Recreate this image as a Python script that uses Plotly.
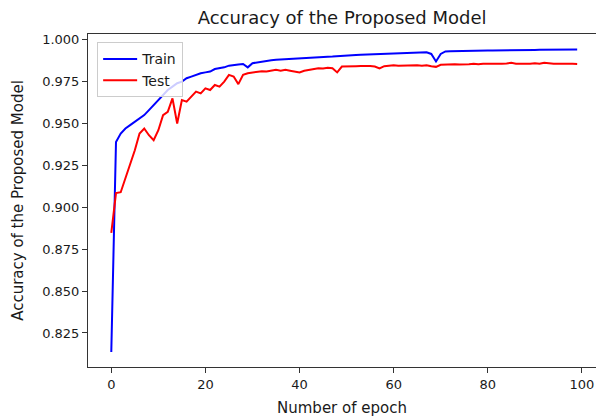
import plotly.graph_objects as go

epochs = list(range(100))

train_acc = [
    0.8137, 0.939, 0.944, 0.947, 0.949, 0.951, 0.953, 0.955, 0.958, 0.961,
    0.964, 0.967, 0.970, 0.972, 0.974, 0.975, 0.977, 0.978, 0.979, 0.980,
    0.9805, 0.981, 0.9825, 0.983, 0.9835, 0.9845, 0.985, 0.9852, 0.9855, 0.9835,
    0.986, 0.9865, 0.987, 0.9873, 0.9877, 0.988, 0.9882, 0.9884, 0.9886, 0.9888,
    0.9889, 0.989, 0.9892, 0.9893, 0.9895, 0.9897, 0.9898, 0.9899, 0.990, 0.9902,
    0.9904, 0.9906, 0.9908, 0.991, 0.9911, 0.9912, 0.9912, 0.9911, 0.9912, 0.9914,
    0.9916, 0.9918, 0.9919, 0.9921, 0.9922, 0.9923, 0.9924, 0.9925, 0.9915, 0.9870,
    0.9915, 0.993, 0.9931, 0.9932, 0.9932, 0.9933, 0.9933, 0.9934, 0.9934, 0.9934,
    0.9935, 0.9935, 0.9935, 0.9936, 0.9936, 0.9937, 0.9937, 0.9938, 0.9938, 0.9938,
    0.9939, 0.994, 0.994, 0.9941, 0.9941, 0.9941, 0.9942, 0.9942, 0.9942, 0.9941,
]

test_acc = [
    0.8847, 0.9085, 0.909, 0.917, 0.926, 0.934, 0.944, 0.947, 0.943, 0.940,
    0.946, 0.955, 0.957, 0.965, 0.950, 0.964, 0.963, 0.966, 0.969, 0.968,
    0.971, 0.970, 0.973, 0.972, 0.975, 0.979, 0.978, 0.9735, 0.979, 0.980,
    0.9805, 0.981, 0.9812, 0.981, 0.9815, 0.982, 0.9815, 0.982, 0.9815, 0.981,
    0.9805, 0.9815, 0.982, 0.9825, 0.983, 0.9828, 0.9832, 0.983, 0.9805, 0.984,
    0.9842, 0.9843, 0.9842, 0.9843, 0.9845, 0.9843, 0.984, 0.9828, 0.9842, 0.9845,
    0.9847, 0.9845, 0.9846, 0.9843, 0.9846, 0.9847, 0.9845, 0.9848, 0.9842, 0.9838,
    0.985, 0.9852, 0.9851, 0.9853, 0.9852, 0.9855, 0.9854, 0.9856, 0.9853, 0.9857,
    0.9856, 0.9858, 0.9855, 0.9857, 0.9858, 0.9862, 0.9857, 0.9856, 0.9858, 0.9857,
    0.9859, 0.9856, 0.9862, 0.9858, 0.9857, 0.9856, 0.9858, 0.9857, 0.9856, 0.9855,
]

x_ticks = [0, 20, 40, 60, 80, 100]
y_ticks = [0.825, 0.850, 0.875, 0.900, 0.925, 0.950, 0.975, 1.000]
y_tick_labels = ["0.825", "0.850", "0.875", "0.900", "0.925", "0.950", "0.975", "1.000"]

FONT = "DejaVu Sans"
TXT = "#1a1a1a"

fig = go.Figure()
fig.add_trace(go.Scatter(x=epochs, y=train_acc, mode="lines", name="Train",
                         line=dict(color="#0000ff", width=2)))
fig.add_trace(go.Scatter(x=epochs, y=test_acc, mode="lines", name="Test",
                         line=dict(color="#ff0000", width=2)))

fig.update_layout(
    width=596, height=418,
    margin=dict(l=88, r=0, t=34, b=51),
    paper_bgcolor="white", plot_bgcolor="white",
    font=dict(family=FONT, size=13, color=TXT),
    title=dict(text="Accuracy of the Proposed Model", x=0.574, xanchor="center",
               y=1 - 18 / 418, yanchor="middle", yref="container",
               font=dict(family=FONT, size=18, color=TXT)),
    showlegend=True,
    legend=dict(x=0.018, y=0.975, xanchor="left", yanchor="top",
                bgcolor="rgba(255,255,255,0.8)", bordercolor="#cccccc", borderwidth=1,
                font=dict(family=FONT, size=14, color=TXT),
                itemwidth=34, tracegroupgap=0),
)

fig.update_xaxes(
    range=[-4.95, 103.0], tickvals=x_ticks, ticktext=[str(v) for v in x_ticks],
    showgrid=False, zeroline=False, showline=True, linecolor="#333333", linewidth=1,
    mirror=True, ticks="outside", ticklen=5, tickcolor="#333333",
    tickfont=dict(family=FONT, size=13, color=TXT), automargin=False,
    title=dict(text="Number of epoch", font=dict(family=FONT, size=15, color=TXT), standoff=11),
)
fig.update_yaxes(
    range=[0.8047, 1.0034], tickvals=y_ticks, ticktext=y_tick_labels,
    showgrid=False, zeroline=False, showline=True, linecolor="#333333", linewidth=1,
    mirror=False, ticks="outside", ticklen=5, tickcolor="#333333",
    tickfont=dict(family=FONT, size=13, color=TXT), automargin=False,
    title=dict(text="Accuracy of the Proposed Model", font=dict(family=FONT, size=15, color=TXT), standoff=14),
)

fig.write_html("out.html", config={"displayModeBar": False},
               post_script="document.body.style.margin='0px';")
